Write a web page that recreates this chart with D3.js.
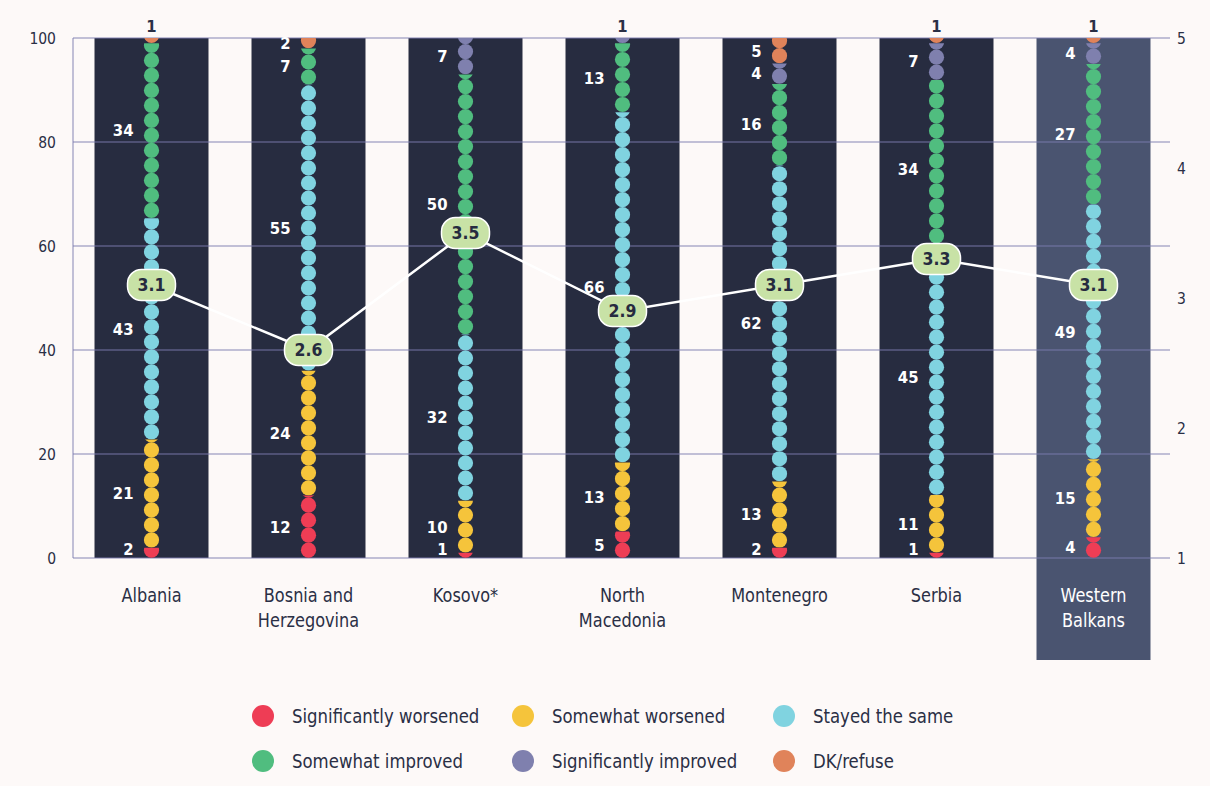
<!DOCTYPE html>
<html>
<head>
<meta charset="utf-8">
<script src="https://cdn.jsdelivr.net/npm/d3@7"></script>
<style>
  html, body { margin: 0; padding: 0; background: #fdf9f8; }
  svg { display: block; }
  text { font-family: "Liberation Sans Narrow", "DejaVu Sans Condensed", "Arial Narrow", sans-serif; }
</style>
</head>
<body>
<svg id="chart" width="1210" height="786"></svg>
<script>
// Survey shares (%) by answer, per economy
const categories = ["Albania", "Bosnia and Herzegovina", "Kosovo*", "North Macedonia", "Montenegro", "Serbia", "Western Balkans"];
const categoryLines = [["Albania"], ["Bosnia and", "Herzegovina"], ["Kosovo*"], ["North", "Macedonia"], ["Montenegro"], ["Serbia"], ["Western", "Balkans"]];
const significantlyWorsened = [2, 12, 1, 5, 2, 1, 4];
const somewhatWorsened = [21, 24, 10, 13, 13, 11, 15];
const stayedTheSame = [43, 55, 32, 66, 62, 45, 49];
const somewhatImproved = [34, 7, 50, 13, 16, 34, 27];
const significantlyImproved = [0, 0, 7, 1, 4, 7, 4];
const dkRefuse = [1, 2, 0, 0, 5, 1, 1];
// Average score on a 1-5 scale
const meanScore = [3.1, 2.6, 3.5, 2.9, 3.1, 3.3, 3.1];

const leftTicks = [0, 20, 40, 60, 80, 100];
const rightTicks = [1, 2, 3, 4, 5];

const seriesNames = ["Significantly worsened", "Somewhat worsened", "Stayed the same", "Somewhat improved", "Significantly improved", "DK/refuse"];
const seriesValues = [significantlyWorsened, somewhatWorsened, stayedTheSame, somewhatImproved, significantlyImproved, dkRefuse];
const seriesColors = ["#ee3d55", "#f5c43b", "#80d3e0", "#50bd7f", "#7f80ae", "#e0835a"];

const textDark = "#2a2f45";
const barDark = "#272c40";
const barHighlight = "#4a5470";
const gridColor = "#7a7aae";
const narrow = 0.92; // horizontal squeeze for the condensed label face

const svg = d3.select("#chart");
svg.append("rect").attr("width", 1210).attr("height", 786).attr("fill", "#fdf9f8");

const x = d3.scaleBand().domain(categories).range([73, 1172]).paddingInner(0.274).paddingOuter(0.137);
const y = d3.scaleLinear().domain([0, 100]).range([558, 38]);
const yR = d3.scaleLinear().domain([1, 5]).range([558, 38]);
const cx = c => x(c) + x.bandwidth() / 2;

// Column backgrounds
svg.append("g").selectAll("rect").data(categories).join("rect")
  .attr("x", d => x(d))
  .attr("y", y(100))
  .attr("width", x.bandwidth())
  .attr("height", (d, i) => i === categories.length - 1 ? 660 - y(100) : y(0) - y(100))
  .attr("fill", (d, i) => i === categories.length - 1 ? barHighlight : barDark);

// Gridlines and left axis line
const grid = svg.append("g").attr("stroke", gridColor).attr("stroke-opacity", 0.62).attr("stroke-width", 1.5);
grid.selectAll("line.h").data(leftTicks).join("line")
  .attr("class", "h")
  .attr("x1", 73).attr("x2", 1170)
  .attr("y1", d => y(d)).attr("y2", d => y(d));
grid.append("line").attr("x1", 73).attr("x2", 73).attr("y1", y(0)).attr("y2", y(100));

// Left axis
const leftAxis = svg.append("g").attr("transform", "translate(56,0)")
  .call(d3.axisLeft(y).tickValues(leftTicks).tickSize(0).tickPadding(0).tickFormat(d3.format("d")));
leftAxis.select(".domain").remove();
leftAxis.selectAll("text").attr("font-size", 15.5).attr("fill", textDark).attr("text-anchor", "end").attr("dy", "0.35em");

// Right axis (mean score)
const rightAxis = svg.append("g").attr("transform", "translate(1177,0)")
  .call(d3.axisRight(yR).tickValues(rightTicks).tickSize(0).tickPadding(0).tickFormat(d3.format("d")));
rightAxis.select(".domain").remove();
rightAxis.selectAll("text").attr("font-size", 15.5).attr("fill", textDark).attr("text-anchor", "start").attr("dy", "0.35em");

// Stacked segments, rescaled so each column totals 100
const stackedRows = categories.map((c, ci) => {
  const vals = seriesValues.map(s => s[ci]);
  const total = d3.sum(vals);
  let acc = 0;
  const segs = vals.map((v, si) => {
    const y0 = acc / total * 100;
    acc += v;
    const y1 = acc / total * 100;
    return { category: c, ci, si, value: v, y0, y1 };
  });
  return segs.filter(s => s.value > 0);
});

const defs = svg.append("defs");
const dotR = 7.6, dotStep = 15, dotOffset = 7.8;
const dotsLayer = svg.append("g");
stackedRows.forEach(segs => {
  segs.forEach(s => {
    const id = `clip-${s.ci}-${s.si}`;
    const top = y(s.y1), bottom = y(s.y0);
    defs.append("clipPath").attr("id", id).append("rect")
      .attr("x", cx(s.category) - 12).attr("width", 24)
      .attr("y", top).attr("height", bottom - top);
    const centers = [];
    for (let cy = bottom - dotOffset; cy + dotR > top; cy -= dotStep) centers.push(cy);
    dotsLayer.append("g").attr("clip-path", `url(#${id})`)
      .selectAll("circle").data(centers).join("circle")
      .attr("cx", cx(s.category)).attr("cy", d => d).attr("r", dotR)
      .attr("fill", seriesColors[s.si]);
  });
});

// Value labels
const labelLayer = svg.append("g").attr("font-weight", "bold").attr("font-size", 16.5);
stackedRows.forEach(segs => {
  segs.forEach((s, k) => {
    const isTop = k === segs.length - 1;
    if (isTop && s.value <= 1) {
      labelLayer.append("text")
        .attr("x", cx(s.category)).attr("y", 26).attr("dy", "0.35em")
        .attr("text-anchor", "middle").attr("fill", textDark)
        .text(s.value);
    } else {
      const mid = Math.min((y(s.y0) + y(s.y1)) / 2, 549.5);
      labelLayer.append("text")
        .attr("x", cx(s.category) - 18).attr("y", mid).attr("dy", "0.35em")
        .attr("text-anchor", "end").attr("fill", "#ffffff")
        .text(s.value);
    }
  });
});

// Mean score line with badges
const meanPts = categories.map((c, i) => [cx(c), yR(meanScore[i])]);
svg.append("path").attr("d", d3.line()(meanPts))
  .attr("fill", "none").attr("stroke", "#ffffff").attr("stroke-width", 2.5);
const badges = svg.append("g").selectAll("g").data(categories).join("g")
  .attr("transform", (d, i) => `translate(${cx(d)},${yR(meanScore[i])})`);
badges.append("rect")
  .attr("x", -24).attr("y", -15.5).attr("width", 48).attr("height", 31).attr("rx", 14)
  .attr("fill", "#c8e2a6").attr("stroke", "#ffffff").attr("stroke-width", 1.5);
badges.append("text")
  .attr("text-anchor", "middle").attr("dy", "0.36em")
  .attr("font-weight", "bold").attr("font-size", 17.5).attr("fill", "#262b3f")
  .text((d, i) => d3.format(".1f")(meanScore[i]));

// Category labels
const catGroups = svg.append("g").selectAll("g").data(categories).join("g")
  .attr("transform", d => `translate(${cx(d)},595) scale(${narrow},1)`);
catGroups.append("text")
  .attr("text-anchor", "middle").attr("font-size", 19.5)
  .attr("fill", (d, i) => i === categories.length - 1 ? "#ffffff" : textDark)
  .selectAll("tspan").data((d, i) => categoryLines[i]).join("tspan")
  .attr("x", 0).attr("dy", (d, j) => j === 0 ? "0.35em" : 25)
  .text(d => d);

// Legend
const legendX = [263, 523, 784];
const legendY = [716, 761];
const legend = svg.append("g").selectAll("g").data(seriesNames).join("g")
  .attr("transform", (d, i) => `translate(${legendX[i % 3]},${legendY[Math.floor(i / 3)]})`);
legend.append("circle").attr("r", 11).attr("fill", (d, i) => seriesColors[i]);
legend.append("text").attr("transform", `translate(29,0) scale(${narrow},1)`).attr("dy", "0.35em")
  .attr("font-size", 20).attr("fill", textDark).text(d => d);
</script>
</body>
</html>
